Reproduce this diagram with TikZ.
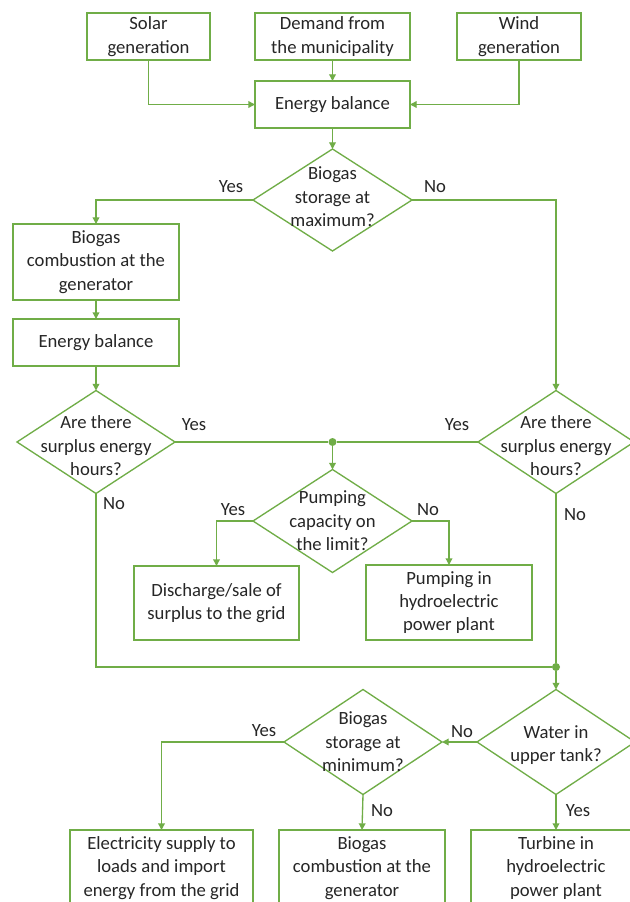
\documentclass[tikz,border=0pt]{standalone}
\usepackage{fontspec}
\setmainfont{Carlito}
\usetikzlibrary{shapes.geometric,arrows.meta}
\definecolor{lg}{HTML}{70AD47}
\definecolor{tx}{HTML}{262626}
\newcommand{\ztext}[2][-4.75pt]{\makebox[0pt][c]{\smash{\raisebox{#1}{\begin{tabular}{@{}c@{}}#2\end{tabular}}}}}
\begin{document}
\begin{tikzpicture}[x=0.75pt,y=-0.75pt,
  every node/.style={font=\fontsize{14}{17.5}\selectfont, text=tx},
  sz/.style 2 args={minimum width={#1*0.75pt},minimum height={#2*0.75pt}},
  box/.style={draw=lg, line width=1pt, rectangle, align=center, inner sep=0pt, outer sep=0pt},
  dia/.style={draw=lg, line width=1pt, diamond, inner sep=0pt, outer sep=0pt},
  conn/.style={draw=lg, line width=1pt},
  arr/.style={conn, -{Triangle[length=5pt,width=5pt]}},
  lbl/.style={inner sep=0pt},
  jdot/.style={circle, fill=lg, inner sep=0pt, minimum size=6pt}
]
\clip (0,0) rectangle (630,902);
\fill[white] (0,0) rectangle (630,902);
% top row
\node[box, sz={123}{47}] (solar) at (148.5,36.5) {Solar\\generation};
\node[box, sz={155}{47}] (demand) at (332.5,36.5) {Demand from\\the municipality};
\node[box, sz={124}{47}] (wind) at (519,36.5) {Wind\\generation};
\node[box, sz={155}{47}] (eb1) at (332.5,104.5) {Energy balance};
\node[dia, sz={159}{102}] (d1) at (332.5,200) {\ztext[-2.5pt]{Biogas\\storage at\\maximum?}};
% left branch
\node[box, sz={166}{76}] (bio1) at (96,262) {Biogas\\combustion at the\\generator};
\node[box, sz={166}{47}] (eb2) at (96,342.5) {Energy balance};
\node[dia, sz={158}{103}] (dl) at (96,442) {\ztext[-7.75pt]{Are there\\surplus energy\\hours?}};
% right branch
\node[dia, sz={156}{103}] (dr) at (556,442) {\ztext[-7.75pt]{Are there\\surplus energy\\hours?}};
\node[jdot] (j1) at (332.5,442) {};
\node[dia, sz={159}{103}] (dp) at (332.5,521) {\ztext{Pumping\\capacity on\\the limit?}};
\node[box, sz={165}{74}] (dis) at (216.5,603) {Discharge/sale of\\surplus to the grid};
\node[box, sz={166}{75}] (pb) at (449,602.5) {Pumping in\\hydroelectric\\power plant};
\node[jdot] (j2) at (556,667) {};
% bottom
\node[dia, sz={158}{105}] (dw) at (556,742) {\ztext[-6.25pt]{Water in\\upper tank?}};
\node[dia, sz={158}{105}] (dm) at (363,742) {\ztext{Biogas\\storage at\\minimum?}};
\node[box, sz={183}{76}] (b1) at (161.5,868) {Electricity supply to\\loads and import\\energy from the grid};
\node[box, sz={166}{76}] (b2) at (362,868) {Biogas\\combustion at the\\generator};
\node[box, sz={170}{76}] (b3) at (556,868) {Turbine in\\hydroelectric\\power plant};
% connectors
\draw[arr] (solar.south) |- (eb1.west);
\draw[arr] (wind.south) |- (eb1.east);
\draw[arr] (demand) -- (eb1);
\draw[arr] (eb1) -- (d1);
\draw[arr] (d1.west) -| (bio1.north);
\draw[arr] (d1.east) -| (dr.north);
\draw[arr] (bio1) -- (eb2);
\draw[arr] (eb2) -- (dl);
\draw[conn] (dl.east) -- (j1) -- (dr.west);
\draw[arr] (j1) -- (dp.north);
\draw[arr] (dp.west) -| (dis.north);
\draw[arr] (dp.east) -| (pb.north);
\draw[conn] (dl.south) |- (j2);
\draw[conn] (dr.south) -- (j2);
\draw[arr] (j2) -- (dw.north);
\draw[arr] (dw.west) -- (dm.east);
\draw[arr] (dm.west) -| (b1.north);
\draw[arr] (dm.south) -- (b2.north);
\draw[arr] (dw.south) -- (b3.north);
% labels
\node[lbl] (l1) at (231,187) {Yes};
\node[lbl] (l2) at (435,187) {No};
\node[lbl] (l3) at (194,425) {Yes};
\node[lbl] (l4) at (457,425) {Yes};
\node[lbl] (l5) at (114,504) {No};
\node[lbl] (l6) at (575,515) {No};
\node[lbl] (l7) at (233,510) {Yes};
\node[lbl] (l8) at (428,510) {No};
\node[lbl] (l9) at (264,731) {Yes};
\node[lbl] (l10) at (462,732) {No};
\node[lbl] (l11) at (382,811) {No};
\node[lbl] (l12) at (578,811) {Yes};
\end{tikzpicture}
\end{document}
